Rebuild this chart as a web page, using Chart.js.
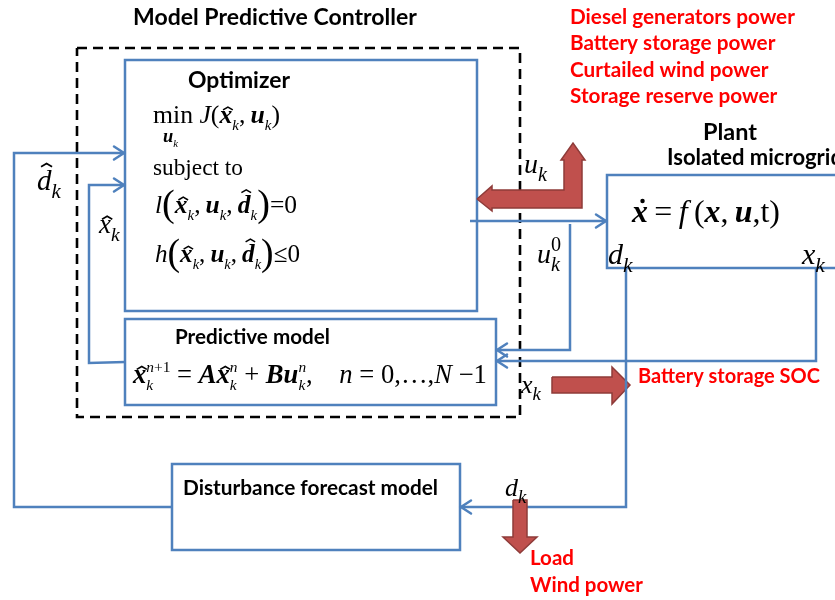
<!DOCTYPE html>
<html><head><meta charset="utf-8">
<script src="https://cdn.jsdelivr.net/npm/chart.js@4.4.1/dist/chart.umd.min.js"></script>
<style>html,body{margin:0;padding:0;background:#fff;overflow:hidden}</style>
</head><body>
<canvas id="c" width="835" height="600"></canvas>
<script>
// ================= diagram data =================
const X_RANGE = [0, 835];
const Y_RANGE = [0, 600];
// boxes: [left, top, right, bottom] in diagram units
const mpcFrame      = [77, 48, 520, 417];
const optimizerBox  = [125, 60, 477, 311];
const predictiveBox = [125, 319, 496, 405];
const plantBox      = [607, 175, 850, 268];
const forecastBox   = [172, 464, 460, 550];

// signal paths (last vertex = arrow tip)
const pathDhat = [[172,507],[14,507],[14,153],[125,153]];
const pathXhat = [[125,362],[89,363],[89,185],[125,185]];
const pathU    = [[470,221],[607,221]];
const pathU0   = [[570,224],[570,350],[496,350]];
const pathXk   = [[816,268],[816,361],[496,361]];
const pathDk   = [[626,268],[626,507],[460,507]];

// block-arrow outlines
const arrowOutputs = [[477,199],[492,186],[492,190],[564,190],[564,160],[561,160],[573,143],[585,160],[582,160],[582,208],[492,208],[492,211],[477,199]];
const arrowSOC     = [[552,377],[612,377],[612,367],[630,385],[612,404],[612,393],[552,393],[552,377]];
const arrowDisturb = [[513,500],[527,500],[527,537],[537,537],[520,553],[503,537],[513,537],[513,500]];

// text content
const titleText      = 'Model Predictive Controller';
const outputLabels   = ['Diesel generators power','Battery storage power','Curtailed wind power','Storage reserve power'];
const plantTitle     = 'Plant';
const plantSubtitle  = 'Isolated microgrid';
const optimizerTitle = 'Optimizer';
const predictiveTitle= 'Predictive model';
const socLabel       = 'Battery storage SOC';
const forecastTitle  = 'Disturbance forecast model';
const disturbLabels  = ['Load','Wind power'];

// math expressions as runs: [text, style, scale, dy, decoration] or {sub, sup}
const K = {sub:[['k','i']]};
const exprMin   = [['min','r'],[' ','r'],['J','i'],['(','r'],['x','bi',1,0,'hat'],K,[',\u2009','r'],['u','bi'],K,[')','r']];
const exprMinSub= [['u','bi'],K];
const exprSubj  = [['subject to','r']];
const exprEq    = [['l','i'],['(','r',1.5,0.1],['x','bi',1,0,'hat'],K,[',\u2009','r'],['u','bi'],K,[',\u2009','r'],['d','bi',1,0,'hatT'],K,[')','r',1.5,0.1],['=','r'],['0','r']];
const exprIneq  = [['h','i'],['(','r',1.5,0.1],['x','bi',1,0,'hat'],K,[',\u2009','r'],['u','bi'],K,[',\u2009','r'],['d','bi',1,0,'hatT'],K,[')','r',1.5,0.1],['\u2264','r'],['0','r']];
const exprPred  = [['x','bi',1,0,'hat'],{sub:[['k','i']],sup:[['n','i'],['+1','r']]},[' = ','r'],['A','bi'],['x','bi',1,0,'hat'],{sub:[['k','i']],sup:[['n','i']]},[' + ','r'],['B','bi'],['u','bi'],{sub:[['k','i']],sup:[['n','i']]},[',\u2003','r'],['n','i'],[' = 0,\u2026,','r'],['N','i'],[' \u22121','r']];
const exprPlant = [['x','bi',1,0,'dot'],['\u2009=\u2009','r'],['f','i'],['\u2009(','r'],['x','bi'],[',\u2009','r'],['u','bi'],[',','r'],['t','r'],[')','r']];
const lblDhat = [['d','i',1,0,'hatT'],K];
const lblXhat = [['x','i',1,0,'hat'],K];
const lblU    = [['u','i'],K];
const lblU0   = [['u','i'],{sub:[['k','i']],sup:[['0','r']]}];
const lblD    = [['d','i'],K];
const lblX    = [['x','i'],K];

// ================= rendering =================
const BLUE = '#4f81bd', RED_FILL = '#c0504d', RED_EDGE = '#8e3b39';
const rectPts = r => [[r[0],r[1]],[r[2],r[1]],[r[2],r[3]],[r[0],r[3]],[r[0],r[1]]];
const toXY = pts => pts.map(([x,y]) => ({x, y}));

function lineDs(pts, opt) {
  return Object.assign({data: toXY(pts), showLine: true, pointRadius: 0, pointHoverRadius: 0,
    borderColor: BLUE, borderWidth: 2.5, fill: false, tension: 0, borderJoinStyle: 'miter',
    borderCapStyle: 'butt', order: 1}, opt || {});
}

const datasets = [
  lineDs(rectPts(mpcFrame), {borderColor: '#000', borderWidth: 2.6, borderDash: [10, 6], order: 3}),
  lineDs(rectPts(optimizerBox), {borderCapStyle: 'square'}),
  lineDs(rectPts(predictiveBox), {borderCapStyle: 'square'}),
  lineDs(rectPts(plantBox), {borderCapStyle: 'square'}),
  lineDs(rectPts(forecastBox), {borderCapStyle: 'square'}),
  lineDs(pathDhat, {arrow: true}),
  lineDs(pathXhat, {arrow: true}),
  lineDs(pathU, {arrow: true}),
  lineDs(pathU0, {arrow: true}),
  lineDs(pathXk, {arrow: true}),
  lineDs(pathDk, {arrow: true}),
  lineDs(arrowOutputs, {borderColor: RED_EDGE, borderWidth: 1.5, backgroundColor: RED_FILL, fill: 'shape', order: 0}),
  lineDs(arrowSOC, {borderColor: RED_EDGE, borderWidth: 1.5, backgroundColor: RED_FILL, fill: 'shape', order: 2}),
  lineDs(arrowDisturb, {borderColor: RED_EDGE, borderWidth: 1.5, backgroundColor: RED_FILL, fill: 'shape', order: 0}),
];

const SERIF = '"Liberation Serif", "Times New Roman", serif';
const SANS = 'Lato, "Open Sans", sans-serif';
function fontStr(st, fs, fam) {
  const it = st.includes('i') ? 'italic ' : '';
  const b = st.includes('b') ? 'bold ' : '';
  return it + b + fs.toFixed(2) + 'px ' + fam;
}
function drawDeco(ctx, deco, x, w, gy, fs, st, xh) {
  const cx = x + w / 2 + (st.includes('i') ? 0.08 * fs : 0);
  ctx.save();
  if (deco === 'dot') {
    ctx.beginPath();
    ctx.arc(cx, gy - 0.66 * fs, 0.07 * fs, 0, Math.PI * 2);
    ctx.fill();
  } else {
    const topF = deco === 'hatT' ? 0.76 : xh;
    const ay = gy - topF * fs - 0.15 * fs;
    ctx.lineWidth = 0.06 * fs;
    ctx.strokeStyle = ctx.fillStyle;
    ctx.beginPath();
    ctx.moveTo(cx - 0.19 * fs, ay + 0.11 * fs);
    ctx.lineTo(cx, ay);
    ctx.lineTo(cx + 0.19 * fs, ay + 0.11 * fs);
    ctx.stroke();
  }
  ctx.restore();
}
function runs(ctx, items, size, fam, draw, x0, y0, so) {
  let x = x0;
  for (const it of items) {
    if (Array.isArray(it)) {
      const [t, st = 'r', sc = 1, dy = 0, deco = null] = it;
      const fs = size * sc;
      ctx.font = fontStr(st, fs, fam);
      const w = ctx.measureText(t).width;
      if (draw) {
        const gy = y0 + dy * size;
        ctx.fillText(t, x, gy);
        if (deco) drawDeco(ctx, deco, x, w, gy, fs, st, so.xh);
      }
      x += w;
    } else {
      let wmax = 0;
      for (const [part, dyF] of [['sub', so.subDy], ['sup', so.supDy]]) {
        if (!it[part]) continue;
        let xx = x;
        for (const [t, st = 'r'] of it[part]) {
          const fs = size * so.scale;
          ctx.font = fontStr(st, fs, fam);
          const w = ctx.measureText(t).width;
          if (draw) ctx.fillText(t, xx, y0 + dyF * size);
          xx += w;
        }
        wmax = Math.max(wmax, xx - x);
      }
      x += wmax;
    }
  }
  return x - x0;
}
const SCRIPT_EQ  = {scale: 0.58, subDy: 0.26, supDy: -0.42, xh: 0.47, fam: SERIF};
const SCRIPT_LBL = {scale: 0.72, subDy: 0.28, supDy: -0.42, xh: 0.47, fam: SERIF};
function mathAt(chart, items, x, y, targetW, base, so) {
  so = so || SCRIPT_EQ;
  const ctx = chart.ctx, sx = chart.scales.x, sy = chart.scales.y;
  const px = sx.getPixelForValue(x), py = sy.getPixelForValue(y);
  let size = base;
  if (targetW) {
    const pw = sx.getPixelForValue(x + targetW) - px;
    const w = runs(ctx, items, base, so.fam, false, px, py, so);
    size = base * pw / w;
  }
  ctx.fillStyle = '#000';
  runs(ctx, items, size, so.fam, true, px, py, so);
}
function sansFit(ctx, text, targetW) {
  ctx.font = 'bold 20px ' + SANS;
  return 20 * targetW / ctx.measureText(text).width;
}
function sansAt(chart, text, x, y, size, color) {
  const ctx = chart.ctx;
  ctx.font = 'bold ' + size.toFixed(2) + 'px ' + SANS;
  ctx.fillStyle = color;
  ctx.fillText(text, chart.scales.x.getPixelForValue(x), chart.scales.y.getPixelForValue(y));
}

const arrowPlugin = {
  id: 'arrowHeads',
  afterDatasetsDraw(chart) {
    const ctx = chart.ctx, sx = chart.scales.x, sy = chart.scales.y;
    chart.data.datasets.forEach(ds => {
      if (!ds.arrow) return;
      const n = ds.data.length;
      const a = ds.data[n - 2], b = ds.data[n - 1];
      const bx = sx.getPixelForValue(b.x), by = sy.getPixelForValue(b.y);
      const ax = sx.getPixelForValue(a.x), ay = sy.getPixelForValue(a.y);
      const len = Math.hypot(bx - ax, by - ay), ux = (bx - ax) / len, uy = (by - ay) / len;
      const L = 11, W = 6.5;
      ctx.save();
      ctx.strokeStyle = ds.borderColor; ctx.lineWidth = ds.borderWidth;
      ctx.lineJoin = 'miter'; ctx.lineCap = 'round';
      ctx.beginPath();
      ctx.moveTo(bx - L * ux - W * uy, by - L * uy + W * ux);
      ctx.lineTo(bx - 1 * ux, by - 1 * uy);
      ctx.lineTo(bx - L * ux + W * uy, by - L * uy - W * ux);
      ctx.stroke();
      ctx.restore();
    });
  }
};

const textPlugin = {
  id: 'diagramText',
  afterDraw(chart) {
    const ctx = chart.ctx;
    ctx.save();
    ctx.textBaseline = 'alphabetic';
    ctx.textAlign = 'left';
    sansAt(chart, titleText, 133, 25, sansFit(ctx, titleText, 284), '#000');
    const rs = sansFit(ctx, outputLabels[0], 225);
    [24, 50, 77, 103].forEach((y, i) => sansAt(chart, outputLabels[i], 570, y, rs, '#ff0000'));
    sansAt(chart, plantTitle, 703, 140, sansFit(ctx, plantTitle, 54), '#000');
    sansAt(chart, plantSubtitle, 667, 165, sansFit(ctx, plantSubtitle, 176), '#000');
    sansAt(chart, optimizerTitle, 188, 88, sansFit(ctx, optimizerTitle, 102), '#000');
    sansAt(chart, predictiveTitle, 175, 344, sansFit(ctx, predictiveTitle, 155), '#000');
    sansAt(chart, socLabel, 638, 383, sansFit(ctx, socLabel, 182), '#ff0000');
    sansAt(chart, forecastTitle, 183, 495, sansFit(ctx, forecastTitle, 255), '#000');
    const ls = sansFit(ctx, disturbLabels[1], 113);
    sansAt(chart, disturbLabels[0], 530, 565, ls, '#ff0000');
    sansAt(chart, disturbLabels[1], 530, 592, ls, '#ff0000');

    mathAt(chart, exprMin, 153, 123, 127, 22);
    mathAt(chart, exprMinSub, 163, 142, 15, 14);
    mathAt(chart, exprSubj, 153, 175, 90, 22);
    mathAt(chart, exprEq, 155, 213, 142, 22);
    mathAt(chart, exprIneq, 155, 262, 145, 22);
    mathAt(chart, exprPred, 133, 383, 354, 24);
    mathAt(chart, exprPlant, 632, 222, 148, 26);
    mathAt(chart, lblDhat, 37, 190, null, 29, SCRIPT_LBL);
    mathAt(chart, lblXhat, 99, 233, null, 27, SCRIPT_LBL);
    mathAt(chart, lblU, 524, 173, null, 28, SCRIPT_LBL);
    mathAt(chart, lblU0, 537, 263, null, 28, SCRIPT_LBL);
    mathAt(chart, lblD, 608, 264, null, 30, SCRIPT_LBL);
    mathAt(chart, lblX, 802, 264, null, 30, SCRIPT_LBL);
    mathAt(chart, lblX, 521, 393, null, 26, SCRIPT_LBL);
    mathAt(chart, lblD, 505, 496, null, 26, SCRIPT_LBL);
    ctx.restore();
  }
};

new Chart(document.getElementById('c'), {
  type: 'scatter',
  data: {datasets},
  options: {
    responsive: false,
    animation: false,
    events: [],
    layout: {padding: 0},
    scales: {
      x: {type: 'linear', min: X_RANGE[0], max: X_RANGE[1], display: false},
      y: {type: 'linear', min: Y_RANGE[0], max: Y_RANGE[1], reverse: true, display: false}
    },
    plugins: {legend: {display: false}, tooltip: {enabled: false}}
  },
  plugins: [arrowPlugin, textPlugin]
});
</script>
</body></html>
